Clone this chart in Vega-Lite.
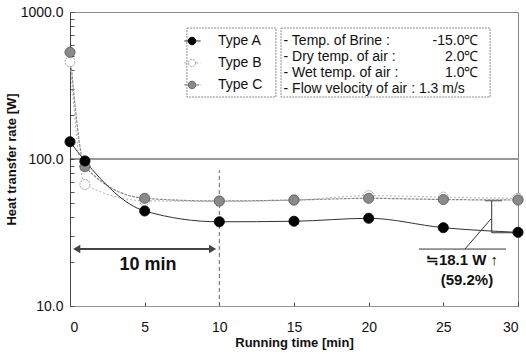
{
  "$schema": "https://vega.github.io/schema/vega-lite/v6.json",
  "width": 448,
  "height": 294,
  "autosize": {"type": "none"},
  "padding": {"left": 70, "top": 12, "right": 8, "bottom": 54},
  "background": "white",
  "config": {
    "font": "Liberation Sans",
    "view": {"stroke": "#8a8a8a", "strokeWidth": 1},
    "axis": {"grid": false, "labelColor": "#111", "titleColor": "#111", "labelFont": "Liberation Sans", "titleFont": "Liberation Sans"}
  },
  "datasets": {
    "pts": [
      {"type": "B", "kind": "s", "x": 0, "y": 459},
      {"type": "B", "kind": "s", "x": 1, "y": 67},
      {"type": "B", "kind": "s", "x": 5, "y": 52},
      {"type": "B", "kind": "s", "x": 10, "y": 51.5},
      {"type": "B", "kind": "s", "x": 15, "y": 52.5},
      {"type": "B", "kind": "s", "x": 20, "y": 56.3},
      {"type": "B", "kind": "s", "x": 25, "y": 55},
      {"type": "B", "kind": "s", "x": 30, "y": 54},
      {"type": "C", "kind": "s", "x": 0, "y": 532},
      {"type": "C", "kind": "s", "x": 1, "y": 88.7},
      {"type": "C", "kind": "s", "x": 5, "y": 54},
      {"type": "C", "kind": "s", "x": 10, "y": 51.8},
      {"type": "C", "kind": "s", "x": 15, "y": 52.6},
      {"type": "C", "kind": "s", "x": 20, "y": 54},
      {"type": "C", "kind": "s", "x": 25, "y": 53},
      {"type": "C", "kind": "s", "x": 30, "y": 52.6},
      {"type": "A", "kind": "s", "x": 0, "y": 131},
      {"type": "A", "kind": "s", "x": 1, "y": 97},
      {"type": "A", "kind": "s", "x": 5, "y": 44.3},
      {"type": "A", "kind": "s", "x": 10, "y": 37.4},
      {"type": "A", "kind": "s", "x": 15, "y": 37.7},
      {"type": "A", "kind": "s", "x": 20, "y": 39.5},
      {"type": "A", "kind": "s", "x": 25, "y": 34.1},
      {"type": "A", "kind": "s", "x": 30, "y": 31.7},
      {"type": "A", "kind": "le", "x": 7.65, "y": 635},
      {"type": "A", "kind": "le", "x": 8.75, "y": 635},
      {"type": "B", "kind": "le", "x": 7.65, "y": 450},
      {"type": "B", "kind": "le", "x": 8.75, "y": 450},
      {"type": "C", "kind": "le", "x": 7.65, "y": 319},
      {"type": "C", "kind": "le", "x": 8.75, "y": 319},
      {"type": "A", "kind": "lm", "x": 8.17, "y": 635},
      {"type": "B", "kind": "lm", "x": 8.17, "y": 450},
      {"type": "C", "kind": "lm", "x": 8.17, "y": 319}
    ],
    "segs": [
      {"g": "thin", "x": 0, "x2": 30, "y": 100, "y2": 100},
      {"g": "dash", "x": 10, "x2": 10, "y": 10, "y2": 84},
      {"g": "thick", "x": 0.4, "x2": 9.6, "y": 24.4, "y2": 24.4},
      {"g": "thin", "x": 23.37, "x2": 29.2, "y": 24.4, "y2": 24.4},
      {"g": "thin", "x": 26.45, "x2": 28.19, "y": 24.4, "y2": 39.1},
      {"g": "thin", "x": 28.24, "x2": 28.24, "y": 31.5, "y2": 52.0},
      {"g": "thin", "x": 27.79, "x2": 28.93, "y": 52.0, "y2": 52.0},
      {"g": "thin", "x": 28.24, "x2": 29.67, "y": 31.5, "y2": 31.5}
    ],
    "heads": [
      {"end": "left", "x": 0.45, "y": 24.4},
      {"end": "right", "x": 9.55, "y": 24.4}
    ],
    "boxes": [
      {"x": 7.83, "x2": 13.79, "y": 778, "y2": 264},
      {"x": 14.13, "x2": 28.13, "y": 778, "y2": 264}
    ],
    "legtext": [
      {"x": 9.91, "y": 635, "label": "Type A"},
      {"x": 9.91, "y": 450, "label": "Type B"},
      {"x": 9.91, "y": 319, "label": "Type C"},
      {"x": 14.3, "y": 635, "label": "- Temp. of  Brine  :"},
      {"x": 14.3, "y": 494, "label": "- Dry temp. of air  :"},
      {"x": 14.3, "y": 384, "label": "- Wet temp. of air  :"},
      {"x": 14.3, "y": 299, "label": "- Flow velocity of air  :  1.3 m/s"}
    ],
    "valtext": [
      {"x": 27.35, "y": 635, "label": "-15.0℃"},
      {"x": 27.35, "y": 494, "label": "2.0℃"},
      {"x": 27.35, "y": 384, "label": "1.0℃"}
    ],
    "notes": [
      {"x": 5.22, "y": 19.0, "label": "10 min", "k": "big"},
      {"x": 26.25, "y": 20.6, "label": "≒18.1 W ↑", "k": "mid"},
      {"x": 26.58, "y": 15.0, "label": "(59.2%)", "k": "mid"}
    ]
  },
  "encoding": {
    "x": {
      "field": "x", "type": "quantitative",
      "scale": {"domain": [0, 30], "nice": false, "zero": false},
      "axis": {
        "title": "Running time [min]", "values": [0, 5, 10, 15, 20, 25, 30], "format": "d",
        "tickSize": -4, "tickColor": "#444", "domainColor": "#9a9a9a", "domainDash": [2, 1],
        "labelFontSize": 14, "labelPadding": 18, "titleFontSize": 13, "titleFontWeight": "bold", "titlePadding": 2
      }
    },
    "y": {
      "field": "y", "type": "quantitative",
      "scale": {"type": "log", "domain": [10, 1000], "nice": false},
      "axis": {
        "title": "Heat transfer rate [W]",
        "values": [10, 20, 30, 40, 50, 60, 70, 80, 90, 100, 200, 300, 400, 500, 600, 700, 800, 900, 1000],
        "labelExpr": "datum.value == 10 || datum.value == 100 || datum.value == 1000 ? format(datum.value, '.1f') : ''",
        "labelOverlap": false,
        "tickSize": -4, "tickColor": "#555", "domainColor": "#444",
        "labelFontSize": 14, "labelPadding": 11, "titleFontSize": 13, "titleFontWeight": "bold", "titlePadding": 2
      }
    }
  },
  "layer": [
    {
      "data": {"name": "boxes"},
      "mark": {"type": "rect", "fill": "white", "stroke": "#8a8a8a", "strokeWidth": 1, "strokeDash": [2, 1]},
      "encoding": {"x2": {"field": "x2"}, "y2": {"field": "y2"}}
    },
    {
      "data": {"name": "segs"},
      "transform": [{"filter": "datum.g == 'thin'"}],
      "mark": {"type": "rule", "color": "#333", "strokeWidth": 1},
      "encoding": {"x2": {"field": "x2"}, "y2": {"field": "y2"}}
    },
    {
      "data": {"name": "segs"},
      "transform": [{"filter": "datum.g == 'dash'"}],
      "mark": {"type": "rule", "color": "#666", "strokeWidth": 1, "strokeDash": [4, 3]},
      "encoding": {"x2": {"field": "x2"}, "y2": {"field": "y2"}}
    },
    {
      "data": {"name": "segs"},
      "transform": [{"filter": "datum.g == 'thick'"}],
      "mark": {"type": "rule", "color": "#444", "strokeWidth": 2},
      "encoding": {"x2": {"field": "x2"}, "y2": {"field": "y2"}}
    },
    {
      "data": {"name": "heads"},
      "mark": {"type": "point", "filled": true, "color": "#444", "size": 70, "opacity": 1},
      "encoding": {
        "shape": {"field": "end", "type": "nominal", "scale": {"domain": ["left", "right"], "range": ["triangle-left", "triangle-right"]}, "legend": null}
      }
    },
    {
      "data": {"name": "pts"},
      "transform": [{"filter": "datum.type == 'B' && datum.kind != 'lm'"}],
      "mark": {"type": "line", "interpolate": "monotone", "color": "#b0b0b0", "strokeWidth": 1, "strokeDash": [2, 2]},
      "encoding": {"detail": {"field": "kind"}}
    },
    {
      "data": {"name": "pts"},
      "transform": [{"filter": "datum.type == 'C' && datum.kind != 'lm'"}],
      "mark": {"type": "line", "interpolate": "monotone", "color": "#888", "strokeWidth": 1.2, "strokeDash": [3, 1]},
      "encoding": {"detail": {"field": "kind"}}
    },
    {
      "data": {"name": "pts"},
      "transform": [{"filter": "datum.type == 'A' && datum.kind != 'lm'"}],
      "mark": {"type": "line", "interpolate": "monotone", "color": "#333", "strokeWidth": 1},
      "encoding": {"detail": {"field": "kind"}}
    },
    {
      "data": {"name": "pts"},
      "transform": [{"filter": "datum.kind != 'le'"}],
      "mark": {"type": "point", "shape": "circle", "filled": true, "opacity": 1, "strokeWidth": 1},
      "encoding": {
        "fill": {"field": "type", "type": "nominal", "scale": {"domain": ["A", "B", "C"], "range": ["#000000", "#ffffff", "#8a8a8a"]}, "legend": null},
        "stroke": {"field": "type", "type": "nominal", "scale": {"domain": ["A", "B", "C"], "range": ["#000000", "#a0a0a0", "#555555"]}, "legend": null},
        "strokeDash": {"field": "type", "type": "nominal", "scale": {"domain": ["A", "B", "C"], "range": [[1, 0], [2, 1], [1, 0]]}, "legend": null},
        "size": {"field": "kind", "type": "nominal", "scale": {"domain": ["s", "lm"], "range": [100, 55]}, "legend": null}
      }
    },
    {
      "data": {"name": "legtext"},
      "mark": {"type": "text", "align": "left", "baseline": "middle", "fontSize": 14, "color": "#111"},
      "encoding": {"text": {"field": "label"}}
    },
    {
      "data": {"name": "valtext"},
      "mark": {"type": "text", "align": "right", "baseline": "middle", "fontSize": 14, "color": "#111"},
      "encoding": {"text": {"field": "label"}}
    },
    {
      "data": {"name": "notes"},
      "transform": [{"filter": "datum.k == 'big'"}],
      "mark": {"type": "text", "align": "center", "baseline": "middle", "fontSize": 18, "fontWeight": "bold", "color": "#111"},
      "encoding": {"text": {"field": "label"}}
    },
    {
      "data": {"name": "notes"},
      "transform": [{"filter": "datum.k == 'mid'"}],
      "mark": {"type": "text", "align": "center", "baseline": "middle", "fontSize": 15, "fontWeight": "bold", "color": "#111"},
      "encoding": {"text": {"field": "label"}}
    }
  ]
}
